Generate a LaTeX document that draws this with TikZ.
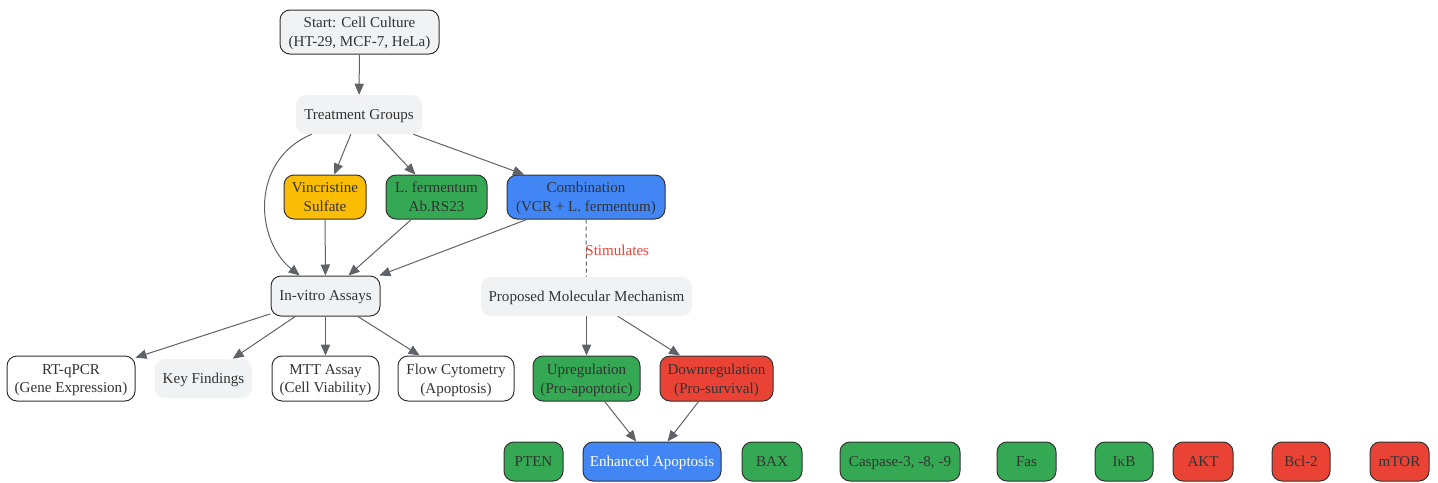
\documentclass[tikz,border=0pt]{standalone}
\usepackage{fontspec}
\setmainfont{Liberation Serif}
\usetikzlibrary{arrows.meta,calc}
\definecolor{gfill}{HTML}{F1F2F4}
\definecolor{ggreen}{HTML}{34A853}
\definecolor{gred}{HTML}{EA4335}
\definecolor{gblue}{HTML}{4285F4}
\definecolor{gyellow}{HTML}{FBBC04}
\definecolor{edgec}{HTML}{5F6368}
\definecolor{bordc}{HTML}{333333}
\definecolor{txtc}{HTML}{333333}
\begin{document}
\begin{tikzpicture}[x=0.75pt,y=-0.75pt,
  every node/.style={font=\fontsize{11.3pt}{14pt}\selectfont, text=txtc, align=center, inner sep=0pt, text depth=-4.5pt},
  box/.style={draw=bordc, line width=0.75pt, rounded corners=7.5pt},
  plain/.style={fill=gfill, rounded corners=7.5pt},
  arr/.style={draw=edgec, line width=0.75pt, -{Triangle[length=8.25pt,width=7pt]}},
  rowb/.style={box, minimum height=29.25pt}
]
\useasboundingbox (0,0) rectangle (1438,482);
% top
\node[box, fill=gfill, minimum width=119.25pt, minimum height=33pt] (start) at (359.5,32) {Start: Cell Culture\\(HT-29, MCF-7, HeLa)};
\node[plain, minimum width=94.5pt, minimum height=29.25pt] (treat) at (359,114.5) {Treatment Groups};
\node[box, fill=gyellow, minimum width=61.5pt, minimum height=33pt] (vinc) at (325,197) {Vincristine\\Sulfate};
\node[box, fill=ggreen, minimum width=75.75pt, minimum height=33pt] (lferm) at (436.5,197) {L. fermentum\\Ab.RS23};
\node[box, fill=gblue, minimum width=118.5pt, minimum height=33pt] (comb) at (586,197) {Combination\\(VCR + L. fermentum)};
\node[box, fill=gfill, minimum width=81.75pt, minimum height=30pt] (invitro) at (325.5,296) {In-vitro Assays};
\node[plain, minimum width=158.25pt, minimum height=29.25pt] (prop) at (586.5,296.5) {Proposed Molecular Mechanism};
% assays row
\node[box, fill=white, minimum width=96pt, minimum height=33.75pt] (rt) at (71,378.5) {RT-qPCR\\(Gene Expression)};
\node[plain, minimum width=72.75pt, minimum height=29.25pt] (key) at (203.5,378.5) {Key Findings};
\node[box, fill=white, minimum width=80.25pt, minimum height=33.75pt] (mtt) at (325.5,378.5) {MTT Assay\\(Cell Viability)};
\node[box, fill=white, minimum width=87pt, minimum height=33.75pt] (flow) at (456,378.5) {Flow Cytometry\\(Apoptosis)};
\node[box, fill=ggreen, minimum width=80.25pt, minimum height=33.75pt] (up) at (586.5,378.5) {Upregulation\\(Pro-apoptotic)};
\node[box, fill=gred, minimum width=84.75pt, minimum height=33.75pt] (down) at (716.5,378.5) {Downregulation\\(Pro-survival)};
% bottom row
\node[rowb, fill=ggreen, minimum width=44.25pt] (pten) at (533.5,461.5) {PTEN};
\node[rowb, fill=gblue, minimum width=103.5pt, text=white] (enh) at (652,461.5) {Enhanced Apoptosis};
\node[rowb, fill=ggreen, minimum width=45pt] (bax) at (772,461.5) {BAX};
\node[rowb, fill=ggreen, minimum width=90pt] (casp) at (900,461.5) {Caspase-3, -8, -9};
\node[rowb, fill=ggreen, minimum width=44.25pt] (fas) at (1026.5,461.5) {Fas};
\node[rowb, fill=ggreen, minimum width=43.5pt] (ikb) at (1124,461.5) {IκB};
\node[rowb, fill=gred, minimum width=45pt] (akt) at (1203,461.5) {AKT};
\node[rowb, fill=gred, minimum width=43.5pt] (bcl) at (1301,461.5) {Bcl-2};
\node[rowb, fill=gred, minimum width=44.25pt] (mtor) at (1399.5,461.5) {mTOR};
% edges
\draw[arr] (start) -- (treat);
\draw[arr] (treat) -- (vinc);
\draw[arr] (treat) -- (lferm);
\draw[arr] (treat) -- (comb);
\draw[arr] (treat) .. controls (250,160) and (255,240) .. (invitro);
\draw[arr] (vinc) -- (invitro);
\draw[arr] (lferm) -- (invitro);
\draw[arr] (comb) -- (invitro);
\draw[draw=edgec, line width=0.75pt, dash pattern=on 3pt off 2.25pt] (comb) -- (prop)
  node[pos=0.5, anchor=west, text=gred, xshift=-1pt, yshift=-1.5pt] {Stimulates};
\draw[arr] (invitro) -- (rt);
\draw[arr] (invitro) -- (key);
\draw[arr] (invitro) -- (mtt);
\draw[arr] (invitro) -- (flow);
\draw[arr] (prop) -- (up);
\draw[arr] (prop) -- (down);
\draw[arr] (up) -- (enh);
\draw[arr] (down) -- (enh);
\end{tikzpicture}
\end{document}
